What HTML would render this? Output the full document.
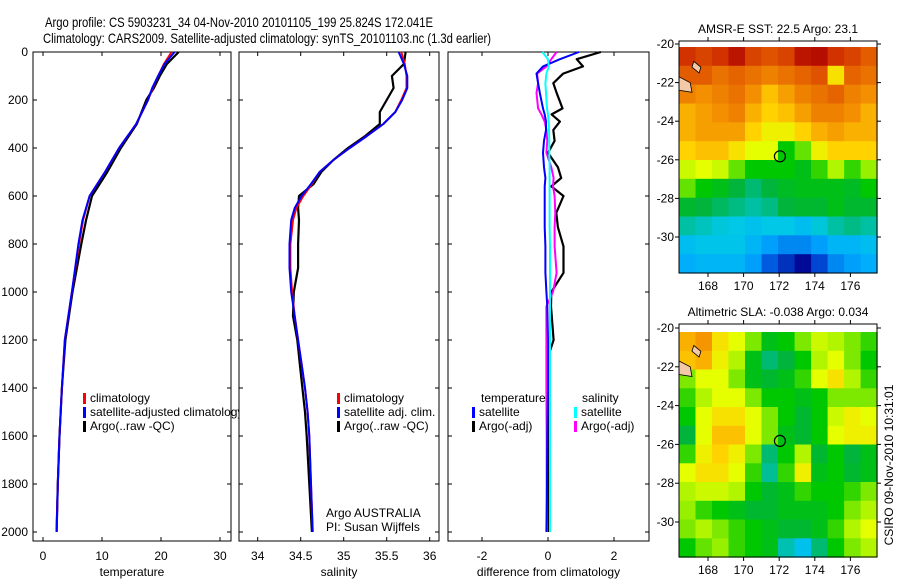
<!DOCTYPE html>
<html><head><meta charset="utf-8">
<style>
html,body{margin:0;padding:0;background:#fff;}
svg{display:block;font-family:"Liberation Sans",sans-serif;}
</style></head>
<body>
<svg id="fig" width="900" height="580" viewBox="0 0 900 580">
<text x="239" y="27" font-size="14" text-anchor="middle" textLength="388" lengthAdjust="spacingAndGlyphs">Argo profile: CS 5903231_34 04-Nov-2010 20101105_199 25.824S 172.041E</text>
<text x="267" y="43" font-size="14" text-anchor="middle" textLength="448" lengthAdjust="spacingAndGlyphs">Climatology: CARS2009. Satellite-adjusted climatology: synTS_20101103.nc (1.3d earlier)</text>
</svg>
<script>
// ---------- data ----------
const depthT = [0,50,100,150,200,300,400,500,600,700,800,1000,1200,1400,1600,1800,2000];
const tempClim = [21.8,20.5,19.5,18.6,17.8,15.8,12.9,10.5,7.9,6.8,6.1,4.9,3.7,3.2,2.8,2.5,2.3];
const tempSat  = [22.3,20.6,19.5,18.5,17.8,15.8,12.9,10.5,7.9,6.7,6.0,4.9,3.7,3.2,2.8,2.5,2.3];
const tempArgo = [23.0,21.0,19.8,18.8,17.5,15.9,13.2,10.9,8.3,7.3,6.5,5.0,3.8,3.2,2.8,2.5,2.3];

const depthS = [0,50,100,150,200,250,300,350,400,450,500,550,600,650,700,800,900,1000,1100,1200,1300,1400,1500,1600,1800,2000];
const salClim = [35.67,35.71,35.73,35.73,35.67,35.6,35.46,35.27,35.07,34.88,34.72,34.63,34.53,34.45,34.41,34.38,34.38,34.40,34.43,34.47,34.51,34.55,34.58,34.60,34.62,34.64];
const salSat  = [35.64,35.70,35.74,35.74,35.68,35.60,35.46,35.27,35.07,34.88,34.72,34.62,34.51,34.43,34.39,34.37,34.37,34.39,34.43,34.47,34.51,34.55,34.58,34.60,34.62,34.64];
const salArgo = [35.72,35.70,35.56,35.58,35.50,35.42,35.42,35.25,35.05,34.88,34.74,34.65,34.48,34.47,34.48,34.47,34.47,34.42,34.41,34.46,34.49,34.52,34.55,34.57,34.60,34.63];

const depthD = [0,30,60,90,130,170,235,260,290,325,370,420,480,525,560,600,670,730,810,920,1000,1060,1200,1250,1400,1600,1800,2000];
const diffTempArgo = [1.6,0.87,1.06,0.46,0.16,0.26,0.44,0.11,0.36,0.16,0.2,0.0,0.3,0.4,0.1,0.47,0.25,0.3,0.47,0.47,0.1,0.09,0.17,0.05,0.05,0.02,0.0,0.0];
const diffTempSat  = [0.94,0.36,-0.15,-0.35,-0.3,-0.25,-0.15,-0.1,-0.06,-0.06,-0.12,-0.15,-0.12,-0.08,-0.1,-0.1,-0.1,-0.1,-0.08,-0.08,-0.05,-0.02,0,0,0,-0.02,-0.03,-0.05];
const diffSalArgo  = [0.26,0.1,-0.05,-0.33,-0.3,-0.35,-0.3,-0.2,-0.1,-0.05,-0.02,-0.05,0.1,0.17,0.15,0.2,0.22,0.2,0.2,0.26,0.15,-0.05,-0.05,-0.05,-0.05,-0.04,-0.04,-0.03];
const diffSalSat   = [-0.17,0,0.02,-0.05,-0.08,-0.06,-0.03,0,0.02,0.03,0.04,0.04,0.05,0.05,0.05,0.05,0.05,0.05,0.06,0.06,0.06,0.06,0.06,0.06,0.06,0.06,0.06,0.06];

const depthTicks = [0,200,400,600,800,1000,1200,1400,1600,1800,2000];
const tempTicks = [0,10,20,30];
const salTicks = [34,34.5,35,35.5,36];
const salTickLabels = ["34","34.5","35","35.5","36"];
const diffTicks = [-2,0,2];

const lonTicks = [168,170,172,174,176];
const latTicks = [-20,-22,-24,-26,-28,-30];
const argoLon = [172.04];
const argoLat = [-25.82];

const sstGrid = [
[.88,.86,.88,.92,.86,.84,.86,.92,.93,.88,.86,.83],
[.83,.83,.80,.82,.80,.78,.80,.82,.84,.66,.82,.80],
[.78,.76,.78,.80,.76,.70,.74,.78,.80,.82,.78,.76],
[.72,.74,.76,.78,.72,.68,.70,.74,.78,.78,.76,.72],
[.72,.74,.74,.74,.68,.64,.64,.68,.72,.74,.72,.72],
[.68,.70,.70,.66,.62,.62,.50,.54,.64,.68,.68,.68],
[.60,.62,.60,.54,.50,.50,.50,.48,.52,.58,.52,.56],
[.54,.50,.48,.45,.42,.45,.47,.48,.48,.48,.47,.50],
[.46,.45,.43,.41,.39,.41,.45,.46,.46,.48,.46,.46],
[.39,.37,.35,.34,.32,.34,.34,.31,.35,.39,.41,.39],
[.31,.33,.33,.33,.29,.25,.23,.23,.25,.29,.29,.31],
[.27,.29,.29,.29,.25,.19,.15,.11,.17,.23,.25,.27]];
const slaGrid = [
[.72,.75,.66,.62,.55,.48,.50,.55,.60,.58,.55,.52],
[.70,.72,.64,.58,.48,.42,.45,.50,.58,.62,.55,.50],
[.55,.62,.62,.55,.48,.46,.48,.52,.62,.66,.58,.52],
[.52,.58,.62,.62,.55,.50,.50,.48,.50,.55,.55,.55],
[.50,.62,.66,.66,.62,.55,.50,.46,.50,.60,.64,.62],
[.45,.62,.70,.70,.62,.55,.48,.46,.50,.62,.64,.64],
[.52,.64,.68,.64,.55,.42,.50,.58,.46,.50,.45,.48],
[.62,.66,.66,.62,.52,.40,.52,.64,.48,.50,.46,.48],
[.58,.60,.60,.58,.50,.46,.48,.52,.50,.50,.52,.55],
[.56,.52,.50,.48,.46,.46,.48,.48,.48,.50,.55,.58],
[.55,.58,.55,.52,.50,.48,.46,.46,.48,.52,.58,.62],
[.50,.54,.56,.52,.50,.48,.38,.32,.42,.50,.55,.58]];

// ---------- helpers ----------
const NS="http://www.w3.org/2000/svg";
const svg=document.getElementById('fig');
function mk(tag,attrs,parent){const e=document.createElementNS(NS,tag);for(const k in attrs)e.setAttribute(k,attrs[k]);(parent||svg).appendChild(e);return e;}
function txt(x,y,s,size,anchor,parent){const t=mk('text',{x:x,y:y,'font-size':size,'text-anchor':anchor||'middle'},parent);t.textContent=s;return t;}
const yD = d => 52 + d*0.24;
const TOP=52, BOT=541;

function panel(name,x0,x1,xs,ticks,labels,title){
  const g=mk('g',{});
  
  
  const r=mk('rect',{x:x0,y:TOP,width:x1-x0,height:BOT-TOP,fill:'#fff',stroke:'#000','stroke-width':1},g);
  
  
  depthTicks.forEach(d=>{
    mk('line',{x1:x0,x2:x0+4,y1:yD(d),y2:yD(d),stroke:'#000'},g);
    mk('line',{x1:x1,x2:x1-4,y1:yD(d),y2:yD(d),stroke:'#000'},g);
  });
  ticks.forEach((v,i)=>{
    mk('line',{x1:xs(v),x2:xs(v),y1:TOP,y2:TOP+4,stroke:'#000'},g);
    mk('line',{x1:xs(v),x2:xs(v),y1:BOT,y2:BOT-4,stroke:'#000'},g);
    const t=txt(xs(v),560,labels[i],12,'middle',g);
    
    
  });
  const tt=txt((x0+x1)/2,576,title,12,'middle',g);
  
  
  return g;
}
function line(g,xs,vals,depths,color,name,w){
  const pts=vals.map((v,i)=>xs(v).toFixed(1)+','+yD(depths[i]).toFixed(1)).join(' ');
  const p=mk('polyline',{points:pts,fill:'none',stroke:color,'stroke-width':w||2,'stroke-linejoin':'round'},g);
  
  
}
function legendItem(g,x,y,color,label,name){
  if(color) mk('rect',{x:x,y:y-9,width:3,height:11,fill:color},g);
  const t=txt(x+7,y,label,12,'start',g);
  
  
}

depthTicks.forEach(d=>{
  const t=txt(28,yD(d)+4,String(d),12,'end');
  
  
});

const xT=v=>43+v*5.9;
const g1=panel('temperature-panel',33,231,xT,tempTicks,tempTicks.map(String),'temperature');
line(g1,xT,tempArgo,depthT,'#000','temp-argo-line',2.2);
line(g1,xT,tempClim,depthT,'#f00','temp-climatology-line');
line(g1,xT,tempSat,depthT,'#00f','temp-satellite-line');
legendItem(g1,83,402,'#f00','climatology','legend-climatology');
legendItem(g1,83,416,'#00f','satellite-adjusted climatology','legend-satellite-adjusted');
legendItem(g1,83,430,'#000','Argo(..raw -QC)','legend-argo');

const xS=v=>257.7+(v-34)*86;
const g2=panel('salinity-panel',239,439,xS,salTicks,salTickLabels,'salinity');
line(g2,xS,salArgo,depthS,'#000','sal-argo-line',2.2);
line(g2,xS,salClim,depthS,'#f00','sal-climatology-line');
line(g2,xS,salSat,depthS,'#00f','sal-satellite-line');
legendItem(g2,337,402,'#f00','climatology','legend-climatology-2');
legendItem(g2,337,416,'#00f','satellite adj. clim.','legend-satellite-2');
legendItem(g2,337,430,'#000','Argo(..raw -QC)','legend-argo-2');
const a1=txt(326,517,'Argo AUSTRALIA',12,'start',g2);


const a2=txt(326,531,'PI: Susan Wijffels',12,'start',g2);



const xDf=v=>548+v*33;
const g3=panel('difference-panel',448,649,xDf,diffTicks,diffTicks.map(String),'difference from climatology');
line(g3,xDf,diffTempArgo,depthD,'#000','diff-temp-argo-line',2.2);
line(g3,xDf,diffSalArgo,depthD,'#f0f','diff-sal-argo-line');
line(g3,xDf,diffTempSat,depthD,'#00f','diff-temp-satellite-line');
line(g3,xDf,diffSalSat,depthD,'#0ff','diff-sal-satellite-line');
legendItem(g3,474,402,null,'temperature','legend-temperature-heading');
legendItem(g3,472,416,'#00f','satellite','legend-temp-satellite');
legendItem(g3,472,430,'#000','Argo(-adj)','legend-temp-argo');
legendItem(g3,575,402,null,'salinity','legend-salinity-heading');
legendItem(g3,574,416,'#0ff','satellite','legend-sal-satellite');
legendItem(g3,574,430,'#f0f','Argo(-adj)','legend-sal-argo');

// ---------- maps ----------
const cmapStops=[[0.10,[0,0,140]],[0.18,[0,80,220]],[0.26,[0,170,255]],[0.34,[0,200,230]],[0.40,[0,190,150]],[0.45,[0,180,60]],[0.50,[0,200,0]],[0.56,[150,240,0]],[0.62,[230,255,0]],[0.68,[255,210,0]],[0.75,[245,150,0]],[0.82,[230,100,0]],[0.88,[210,50,0]],[0.95,[170,0,0]]];
function cmap(v){
  if(v<=cmapStops[0][0]) return `rgb(${cmapStops[0][1].join(',')})`;
  for(let i=1;i<cmapStops.length;i++){
    if(v<=cmapStops[i][0]){
      const [a,ca]=cmapStops[i-1],[b,cb]=cmapStops[i],f=(v-a)/(b-a);
      return `rgb(${ca.map((c,k)=>Math.round(c+(cb[k]-c)*f)).join(',')})`;
    }
  }
  return `rgb(${cmapStops[cmapStops.length-1][1].join(',')})`;
}
function map(name,top,bot,lat20y,lat30y,grid,title){
  const L=679,R=877,lon0=166.37,lon1=177.5;
  const px=lon=>708+(lon-168)*17.8;
  const py=lat=>lat20y+(-20-lat)*(lat30y-lat20y)/10;
  const latTop=-20-(lat20y-top)/((lat30y-lat20y)/10);
  const latBot=-20-(bot-lat20y)/((lat30y-lat20y)/10);
  const g=mk('g',{});
  
  
  const nr=grid.length,nc=grid[0].length;
  const dLon=(lon1-lon0)/nc, dLat=(latTop-latBot)/nr;
  grid.forEach((row,i)=>row.forEach((v,j)=>{
    const x=px(lon0+j*dLon), y=py(latTop-i*dLat);
    const c=mk('rect',{x:x.toFixed(1),y:y.toFixed(1),width:(dLon*17.8+0.6).toFixed(1),height:(dLat*(lat30y-lat20y)/10+0.6).toFixed(1),fill:cmap(v)},g);
    
    
  }));
  mk('path',{d:`M${L},${py(-21.7)} L${px(167)},${py(-22.0)} L${px(167.1)},${py(-22.5)} L${L},${py(-22.4)}Z`,fill:'#f4c9a8',stroke:'#000','stroke-width':0.8},g);
  mk('path',{d:`M${px(167.2)},${py(-20.9)} L${px(167.6)},${py(-21.2)} L${px(167.5)},${py(-21.5)} L${px(167.1)},${py(-21.2)}Z`,fill:'#f4c9a8',stroke:'#000','stroke-width':0.8},g);
  mk('rect',{x:L,y:top,width:R-L,height:bot-top,fill:'none',stroke:'#000'},g);
  lonTicks.forEach(l=>{
    mk('line',{x1:px(l),x2:px(l),y1:bot,y2:bot+4,stroke:'#000'},g);
    mk('line',{x1:px(l),x2:px(l),y1:top,y2:top-4,stroke:'#000'},g);
    const t=txt(px(l),bot+17,String(l),12,'middle',g);
    
    
  });
  latTicks.forEach(l=>{
    mk('line',{x1:L,x2:L-4,y1:py(l),y2:py(l),stroke:'#000'},g);
    mk('line',{x1:R,x2:R+4,y1:py(l),y2:py(l),stroke:'#000'},g);
    const t=txt(674,py(l)+4,String(l),12,'end',g);
    
    
  });
  argoLon.forEach((lo,i)=>{
    const c=mk('circle',{cx:px(lo),cy:py(argoLat[i]),r:5.5,fill:'none',stroke:'#000','stroke-width':1.2},g);
    
    
  });
  const t=txt(778,top-8,title,12,'middle',g);
  
  
}
map('sst-map',41,273,44,237,sstGrid,'AMSR-E SST: 22.5 Argo: 23.1');
map('sla-map',324,557,328,522,slaGrid,'Altimetric SLA: -0.038 Argo: 0.034');

const cs=txt(0,0,'CSIRO 09-Nov-2010 10:31:01',12,'middle');
cs.setAttribute('transform','translate(893,465) rotate(-90)');


</script>
</body></html>
